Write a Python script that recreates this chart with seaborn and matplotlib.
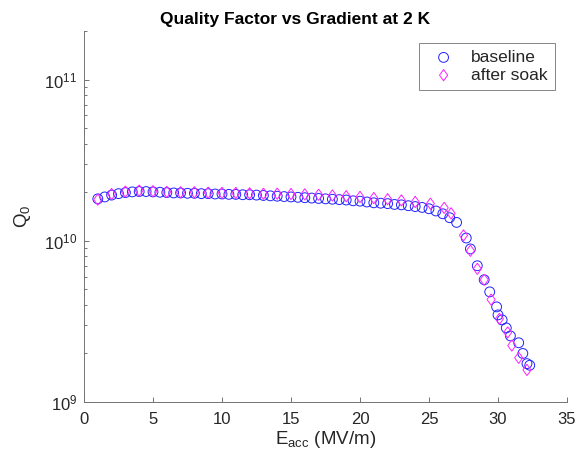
import numpy as np
import pandas as pd
import seaborn as sns
from matplotlib import pyplot as plt
from matplotlib.ticker import LogLocator, NullFormatter

# Gradient (MV/m) and quality factor (x1e10)
baseline_e = [
    1.0, 1.5, 2.0, 2.5, 3.0, 3.5, 4.0, 4.5, 5.0, 5.5, 6.0, 6.5, 7.0, 7.5, 8.0, 8.5,
    9.0, 9.5, 10.0, 10.5, 11.0, 11.5, 12.0, 12.5, 13.0, 13.5, 14.0, 14.5, 15.0, 15.5,
    16.0, 16.5, 17.0, 17.5, 18.0, 18.5, 19.0, 19.5, 20.0, 20.5, 21.0, 21.5, 22.0, 22.5,
    23.0, 23.5, 24.0, 24.5, 25.0, 25.5, 26.0, 26.5, 27.0, 27.7, 28.0, 28.5, 29.0, 29.4,
    29.9, 30.0, 30.3, 30.6, 30.9, 31.5, 31.8, 32.1, 32.3,
]
baseline_q = [
    1.82, 1.87, 1.92, 1.96, 1.99, 2.01, 2.02, 2.02, 2.01, 2.00, 1.99, 1.98, 1.98, 1.97, 1.97, 1.96,
    1.96, 1.95, 1.95, 1.94, 1.94, 1.93, 1.93, 1.92, 1.91, 1.90, 1.89, 1.88, 1.87, 1.86,
    1.85, 1.84, 1.83, 1.82, 1.81, 1.80, 1.79, 1.77, 1.76, 1.74, 1.72, 1.71, 1.70, 1.68,
    1.67, 1.65, 1.63, 1.61, 1.58, 1.53, 1.47, 1.39, 1.30, 1.04, 0.89, 0.70, 0.573, 0.482,
    0.389, 0.347, 0.323, 0.288, 0.257, 0.233, 0.200, 0.173, 0.169,
]

soak_e = [
    1.0, 2.0, 3.0, 4.0, 5.0, 6.0, 7.0, 8.0, 9.0, 10.0, 11.0, 12.0, 13.0, 14.0, 15.0,
    16.0, 17.0, 18.0, 19.0, 20.0, 21.0, 22.0, 23.0, 24.0, 25.1, 26.1, 26.6, 27.5, 28.0,
    28.5, 29.0, 29.5, 30.1, 30.7, 31.0, 31.5, 32.1,
]
soak_q = [
    1.80, 1.95, 2.02, 2.05, 2.03, 2.01, 2.00, 2.00, 1.99, 1.98, 1.98, 1.97, 1.96, 1.96, 1.95,
    1.94, 1.93, 1.91, 1.89, 1.87, 1.84, 1.81, 1.78, 1.74, 1.70, 1.60, 1.48, 1.08, 0.867,
    0.67, 0.573, 0.432, 0.328, 0.27, 0.224, 0.188, 0.158,
]

baseline = pd.DataFrame({"eacc": baseline_e, "q0": np.array(baseline_q) * 1e10})
soak = pd.DataFrame({"eacc": soak_e, "q0": np.array(soak_q) * 1e10})

sns.set_theme(style="ticks")
plt.rcParams["font.family"] = ["Liberation Sans", "DejaVu Sans"]
plt.rcParams["mathtext.fontset"] = "custom"
plt.rcParams["mathtext.rm"] = "Liberation Sans"
plt.rcParams["mathtext.it"] = "Liberation Sans:italic"
text_color = "#262626"

fig = plt.figure(figsize=(5.77, 4.62), dpi=100)
ax = fig.add_axes([84 / 577, 1 - 402 / 462, 483 / 577, 371 / 462])

diamond = [(0, 1), (0.72, 0), (0, -1), (-0.72, 0), (0, 1)]

sns.scatterplot(data=baseline, x="eacc", y="q0", marker="o", s=50,
                facecolor="none", edgecolor="#2222ff", linewidth=0.7,
                label="baseline", ax=ax, legend=False)
sns.scatterplot(data=soak, x="eacc", y="q0", marker=diamond, s=66,
                facecolor="none", edgecolor="#ff22ff", linewidth=0.7,
                label="after soak", ax=ax, legend=False)

ax.set_yscale("log")
ax.set_xlim(0, 35)
ax.set_ylim(1e9, 2e11)
ax.set_xticks([0, 5, 10, 15, 20, 25, 30, 35])
ax.yaxis.set_major_locator(LogLocator(base=10, numticks=10))
ax.yaxis.set_minor_locator(LogLocator(base=10, subs=np.arange(2, 10), numticks=20))
ax.yaxis.set_minor_formatter(NullFormatter())

for side in ["top", "right"]:
    ax.spines[side].set_visible(False)
for side in ["left", "bottom"]:
    ax.spines[side].set_color("0.45")
    ax.spines[side].set_linewidth(0.7)

ax.tick_params(which="both", direction="in", colors="0.45", labelcolor=text_color,
               labelsize=12, width=0.7)
ax.tick_params(which="major", length=3.5)
ax.tick_params(axis="x", pad=7)
ax.tick_params(axis="y", pad=5)
ax.tick_params(which="minor", length=2.5)

ax.set_xlabel(r"E$_{\mathregular{acc}}$ (MV/m)", fontsize=13.5, color=text_color, labelpad=2)
ax.set_ylabel(r"Q$_{\mathregular{0}}$", fontsize=13.5, color=text_color, labelpad=8)
ax.set_title("Quality Factor vs Gradient at 2 K", fontsize=12.5, fontweight="bold",
             color="black", pad=5, x=(295 - 84) / 483)

leg = ax.legend(loc="upper right", bbox_to_anchor=(0.975, 0.968), borderaxespad=0,
                fontsize=12.5, frameon=True, fancybox=False, handletextpad=0.6,
                labelcolor=text_color, borderpad=0.4, labelspacing=0.15, handlelength=2.0)
leg.get_frame().set_edgecolor("0.4")
leg.get_frame().set_linewidth(0.7)

fig.savefig("out.png", dpi=100)
